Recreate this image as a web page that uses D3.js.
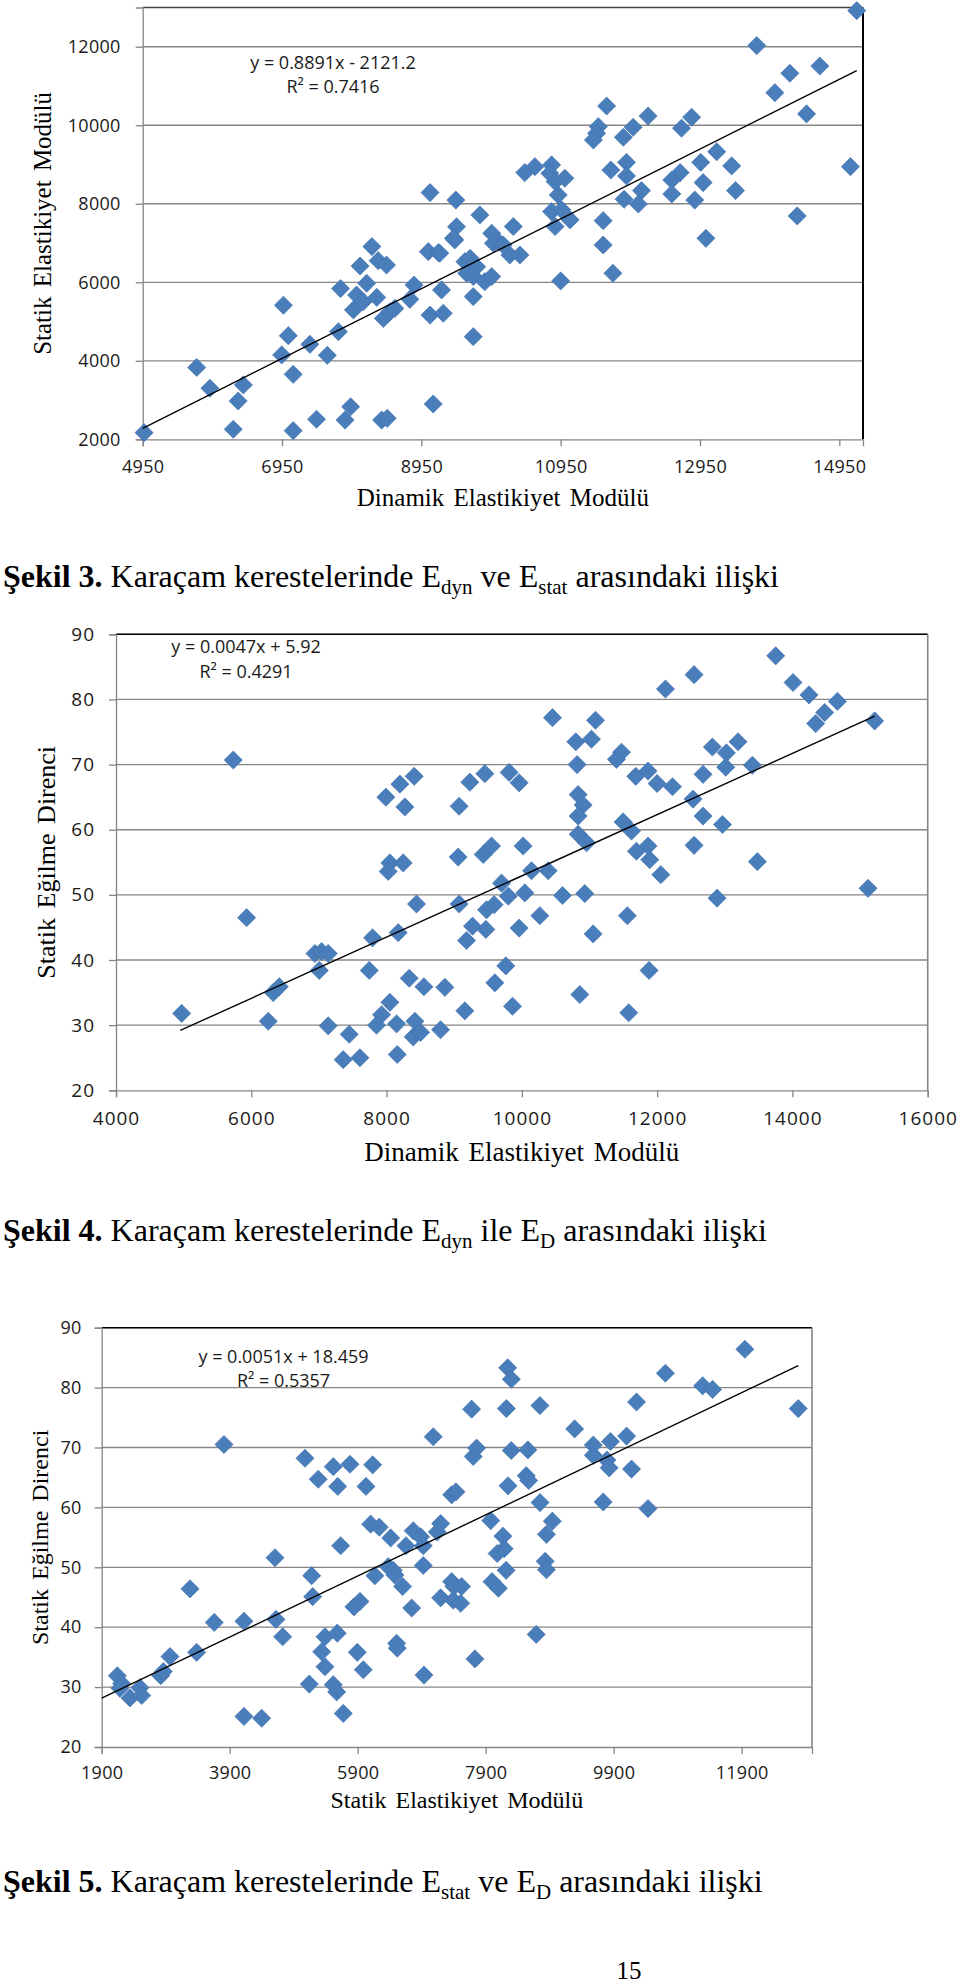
<!DOCTYPE html>
<html>
<head>
<meta charset="UTF-8" />
<title>Şekil 3-5</title>
<script src="https://d3js.org/d3.v7.min.js"></script>
<style>
  body { margin: 0; background: #fff; }
  svg { display: block; }
</style>
</head>
<body>
<svg id="page"></svg>
<script type="text/javascript">
// ---- Şekil 3: Edyn (x) vs Estat (y)
var edyn3 = [4970,5725,5915,6250,6320,6395,6970,7040,6945,7110,7110,7350,7445,7600,7760,7790,7855,7935,7975,8070,
  8020,8165,8115,8240,8310,8330,8450,8380,8460,8405,8500,8570,8785,8845,9075,9120,9050,9195,9240,9265,
  9430,9575,9600,9695,9695,9745,9075,9445,9455,9410,9790,9960,10055,10270,10220,10365,9650,9985,10125,9215,
  9695,9860,9960,10950,11560,11700,10435,10580,10820,10795,10870,11010,10915,10820,10965,11085,10870,11610,12205,12830,
  12685,11490,11465,11420,11990,11850,13190,12960,13405,11670,11895,11895,12665,12545,12995,12110,11860,12065,12545,12875,
  13460,11560,13035,15200,13765,14240,14670,14025,14480,15110,14345]
var estat3 = [2170,3830,3300,2255,2975,3385,5415,4640,4150,3655,2220,4420,2510,4140,4740,5840,2490,2830,5295,6415,
  5675,5975,5505,6910,5615,6550,6440,2490,2535,5080,5250,5335,5565,5930,5165,2900,6780,6755,5805,5210,
  7080,6525,6230,5635,4615,6395,8285,8095,7415,7120,7715,7250,7035,7420,6695,6695,6610,6995,6950,6740,
  6150,6015,6145,6035,6950,6230,8795,8945,8990,8775,8565,8650,8225,7800,7845,7590,7420,10490,10235,10205,
  9925,9965,9795,9625,9950,9695,9325,9055,8965,8860,9055,8710,8795,8605,8540,8335,8115,7995,8250,8095,
  8335,7570,7120,12920,12030,11325,11510,10830,10290,8945,7690]
var xTicks3 = [4950,6950,8950,10950,12950,14950]
var yTicks3 = [2000,4000,6000,8000,10000,12000]
var trend3 = [4950, 15200]   // x range of fitted line
var fit3 = [0.8891, -2121.2]
var eq3 = ["y = 0.8891x - 2121.2", "R² = 0.7416"]

// ---- Şekil 4: Edyn (x) vs ED (y)
var edyn4 = [5734,7990,8197,8408,8271,9073,9231,9453,8049,8024,8246,9058,9429,8443,9073,5931,
  4971,6251,6325,6414,6941,7040,7137,7005,7137,7448,7359,7606,7793,7744,8172,8049,7926,7852,8148,8158,8335,8419,8394,8503,8552,8798,8862,9157,9182,9271,
  13753,12546,12123,14009,14245,14665,14477,14344,15216,10453,11089,11029,10798,10817,11473,11399,9812,9960,11684,11866,11999,12227,12817,13196,13024,13014,13408,12679,
  10832,10906,10832,12531,12679,12966,11497,11621,10832,10956,9552,10019,12546,11694,11866,11891,12054,13482,10143,10389,9700,9590,9478,10044,10601,10930,12886,15118,9800,
  10266,11560,9468,9960,11054,9763,11881,9601,10857,9862,11580]
var ed4 = [70.7,65.0,67.0,68.2,63.5,63.6,67.3,68.6,54.9,53.6,54.9,55.8,56.2,48.6,48.6,46.5,
  31.8,30.6,35.0,35.9,41.0,41.3,41.0,38.4,29.9,28.6,24.7,25.0,43.4,38.4,44.2,33.5,31.6,30.0,30.2,25.5,37.2,30.6,28.2,28.9,35.9,29.3,35.8,32.2,43.0,45.2,
  86.7,83.8,81.6,82.6,80.7,79.7,78.0,76.3,76.7,77.2,76.8,73.9,73.5,70.0,71.9,70.8,68.8,67.2,68.2,69.0,67.1,66.6,72.7,73.5,71.8,69.6,69.9,68.5,
  65.4,63.8,62.1,64.7,62.1,60.8,61.2,59.8,59.3,58.0,57.5,57.5,57.6,56.7,57.5,55.4,53.1,55.1,53.7,53.7,51.8,48.5,47.7,50.3,49.9,50.2,49.5,51.0,49.8,
  46.8,46.8,44.7,44.9,44.0,39.1,38.4,36.5,34.7,32.9,31.9]
var xTicks4 = [4000,6000,8000,10000,12000,14000,16000]
var yTicks4 = [20,30,40,50,60,70,80,90]
var trend4 = [4950, 15216]
var fit4 = [0.0047, 5.92]
var eq4 = ["y = 0.0047x + 5.92", "R² = 0.4291"]

// ---- Şekil 5: Estat (x) vs ED (y)
var estat5 = [2144,2212,2186,2342,2498,2525,2822,2863,2967,3280,3384,3659,3811,4123,4123,4400,4608,4623,4728,5077,
  5181,5197,5144,5284,5338,5389,5389,5519,5588,5634,5581,5519,5572,5675,5780,5842,5936,5894,5988,6030,
  6134,6103,6238,6170,6416,6378,6456,6483,6603,6509,6519,6655,6744,6769,6884,6925,6925,6936,7081,7144,
  7197,7197,7369,7436,7369,7405,7394,7525,7509,7681,7706,7759,7733,
  8224,8244,8302,8748,8300,8560,8534,8573,8250,8750,8942,8850,7980,8170,8190,8080,8220,8830,8850,8000,
  8100,8690,9291,9582,9582,9795,9850,10103,9830,10180,10258,9737,10437,10709,11291,11446,11951,12785]
var ed5 = [31.9,30.6,29.8,28.2,29.9,28.6,31.9,32.6,35.1,46.4,35.8,40.8,70.5,41.0,25.1,24.8,51.6,41.3,38.4,68.2,
  48.6,45.1,30.5,64.7,35.9,38.4,33.4,66.8,63.5,53.6,39.0,30.4,29.2,25.6,67.2,43.4,44.3,35.8,32.9,63.5,
  67.1,57.2,56.7,48.6,54.9,50.1,49.5,48.7,46.8,37.3,36.5,53.6,43.2,56.1,55.1,53.6,50.3,32.0,71.8,55.9,
  57.3,44.9,62.1,62.6,47.6,46.8,44.5,46.8,44.0,76.4,68.5,69.9,34.7,
  76.5,83.3,81.4,77.0,69.5,69.6,65.3,64.5,63.6,60.8,57.7,55.5,57.8,55.2,53.1,52.3,49.5,51.0,49.6,47.6,
  46.5,38.8,73.1,70.4,68.7,67.9,71.0,71.9,66.6,66.4,77.6,60.9,59.8,82.4,80.3,79.7,86.4,76.5]
var xTicks5 = [1900,3900,5900,7900,9900,11900]
var yTicks5 = [20,30,40,50,60,70,80,90]
var trend5 = [1900, 12785]
var fit5 = [0.0051, 18.459]
var eq5 = ["y = 0.0051x + 18.459", "R² = 0.5357"]

var gridGray = "#868686"
var markerBlue = "#4a7ebb"

var svg = d3.select("#page").attr("width", 960).attr("height", 1985)

function drawChart(c) {
  var x = d3.scaleLinear().domain(c.xDomain).range([c.left, c.right])
  var y = d3.scaleLinear().domain(c.yDomain).range([c.bottom, c.top])
  var g = svg.append("g")

  // horizontal gridlines
  g.selectAll(".grid").data(c.yTicks.slice(1))
    .enter().append("line")
    .attr("x1", c.left).attr("x2", c.right)
    .attr("y1", d => y(d)).attr("y2", d => y(d))
    .attr("stroke", gridGray).attr("stroke-width", 1.3)

  // top + right frame
  g.append("line").attr("x1", c.left).attr("x2", c.right)
    .attr("y1", c.top).attr("y2", c.top)
    .attr("stroke", c.topColor).attr("stroke-width", 1.6)
  g.append("line").attr("x1", c.right).attr("x2", c.right)
    .attr("y1", c.top).attr("y2", c.bottom)
    .attr("stroke", c.rightColor).attr("stroke-width", c.rightWidth)

  var xAxis = d3.axisBottom(x).tickValues(c.xTicks).tickSize(7).tickPadding(c.xPad).tickFormat(d3.format("d"))
  var yAxis = d3.axisLeft(y).tickValues(c.yTicks).tickSize(7).tickPadding(c.yPad).tickFormat(d3.format("d"))
  var ax = g.append("g").attr("transform", "translate(0," + c.bottom + ")").call(xAxis)
  var ay = g.append("g").attr("transform", "translate(" + c.left + ",0)").call(yAxis)
  ;[ax, ay].forEach(a => {
    a.select(".domain").attr("stroke", gridGray).attr("stroke-width", 1.3)
    a.selectAll(".tick line").attr("stroke", gridGray).attr("stroke-width", 1.3)
    a.selectAll(".tick text").attr("fill", "#1a1a1a")
      .style("font-family", "'Open Sans', sans-serif").style("font-size", c.tickFont + "px")
      .style("letter-spacing", c.tickSpacing + "px")
  })

  // points
  var pts = c.xs.map((v, i) => [v, c.ys[i]])
  var sym = d3.symbol().type(d3.symbolSquare).size(165)
  g.selectAll(".pt").data(pts).enter().append("path")
    .attr("d", sym)
    .attr("transform", d => "translate(" + x(d[0]) + "," + y(d[1]) + ") rotate(45)")
    .attr("fill", markerBlue)
    .attr("stroke", "#3d6fae").attr("stroke-width", 0.6)

  // linear trend line
  g.append("line")
    .attr("x1", x(c.trend[0])).attr("y1", y(c.fit[0] * c.trend[0] + c.fit[1]))
    .attr("x2", x(c.trend[1])).attr("y2", y(c.fit[0] * c.trend[1] + c.fit[1]))
    .attr("stroke", "#000").attr("stroke-width", 1.4)

  // equation
  g.selectAll(".eq").data(c.eq).enter().append("text")
    .attr("x", c.eqX).attr("y", (d, i) => c.eqY + i * c.eqGap)
    .attr("text-anchor", "middle")
    .style("font-family", "'Open Sans', sans-serif").style("font-size", c.eqFont + "px")
    .attr("fill", "#1a1a1a")
    .text(d => d)

  // axis titles
  g.append("text").attr("x", (c.left + c.right) / 2).attr("y", c.xTitleY)
    .attr("text-anchor", "middle")
    .style("font-family", "'Liberation Serif', 'Times New Roman', serif").style("font-size", c.xTitleFont + "px")
    .style("word-spacing", "3px")
    .text(c.xTitle)
  g.append("text")
    .attr("transform", "translate(" + c.yTitleX + "," + (c.top + c.bottom) / 2 + ") rotate(-90)")
    .attr("text-anchor", "middle")
    .style("font-family", "'Liberation Serif', 'Times New Roman', serif").style("font-size", c.titleFont + "px")
    .style("word-spacing", "3px")
    .text(c.yTitle)
}

drawChart({
  xs: edyn3, ys: estat3, xTicks: xTicks3, yTicks: yTicks3, trend: trend3, fit: fit3, eq: eq3,
  xDomain: [4950, 15290], yDomain: [2000, 13000],
  left: 142.7, right: 863, top: 7.5, bottom: 439.3,
  topColor: "#404040", rightColor: "#000", rightWidth: 2,
  xPad: 14, yPad: 15, tickFont: 18, tickSpacing: 0.3,
  eqX: 333, eqY: 69, eqGap: 24, eqFont: 18,
  xTitle: "Dinamik Elastikiyet Modülü", xTitleY: 506, yTitle: "Statik Elastikiyet Modülü", yTitleX: 51,
  titleFont: 25, xTitleFont: 25
})
drawChart({
  xs: edyn4, ys: ed4, xTicks: xTicks4, yTicks: yTicks4, trend: trend4, fit: fit4, eq: eq4,
  xDomain: [4000, 16000], yDomain: [20, 90],
  left: 116, right: 927.7, top: 634.3, bottom: 1090.3,
  topColor: "#000", rightColor: gridGray, rightWidth: 1.6,
  xPad: 14, yPad: 14, tickFont: 19, tickSpacing: 1,
  eqX: 246, eqY: 653, eqGap: 25, eqFont: 18,
  xTitle: "Dinamik Elastikiyet Modülü", xTitleY: 1161, yTitle: "Statik Eğilme Direnci", yTitleX: 55,
  titleFont: 26, xTitleFont: 27
})
drawChart({
  xs: estat5, ys: ed5, xTicks: xTicks5, yTicks: yTicks5, trend: trend5, fit: fit5, eq: eq5,
  xDomain: [1900, 13000], yDomain: [20, 90],
  left: 101.7, right: 812, top: 1327.7, bottom: 1747,
  topColor: "#000", rightColor: gridGray, rightWidth: 1.6,
  xPad: 12.5, yPad: 13, tickFont: 18, tickSpacing: 0.3,
  eqX: 283.5, eqY: 1363, eqGap: 23.5, eqFont: 18,
  xTitle: "Statik Elastikiyet Modülü", xTitleY: 1808, yTitle: "Statik Eğilme Direnci", yTitleX: 48,
  titleFont: 24, xTitleFont: 24
})

// captions: [text, isSubscript]
var captions = [
  {y: 587, num: "Şekil 3.", parts: [["Karaçam kerestelerinde E", 0], ["dyn", 1], [" ve E", 0], ["stat", 1], [" arasındaki ilişki", 0]]},
  {y: 1241, num: "Şekil 4.", parts: [["Karaçam kerestelerinde E", 0], ["dyn", 1], [" ile E", 0], ["D", 1], [" arasındaki ilişki", 0]]},
  {y: 1892, num: "Şekil 5.", parts: [["Karaçam kerestelerinde E", 0], ["stat", 1], [" ve E", 0], ["D", 1], [" arasındaki ilişki", 0]]}
]
captions.forEach(cp => {
  var t = svg.append("text").attr("x", 3).attr("y", cp.y)
    .style("font-family", "'Liberation Serif', 'Times New Roman', serif").style("font-size", "32px")
    .attr("fill", "#000")
  t.append("tspan").style("font-weight", "bold").text(cp.num + " ")
  var down = false
  cp.parts.forEach(p => {
    var s = t.append("tspan").text(p[0])
    if (p[1]) { s.style("font-size", "21px").attr("dy", down ? 0 : 7); down = true }
    else { s.attr("dy", down ? -7 : 0); down = false }
  })
})

svg.append("text").attr("x", 629).attr("y", 1979).attr("text-anchor", "middle")
  .style("font-family", "'Liberation Serif', 'Times New Roman', serif").style("font-size", "25px")
  .text("15")
</script>
</body>
</html>
